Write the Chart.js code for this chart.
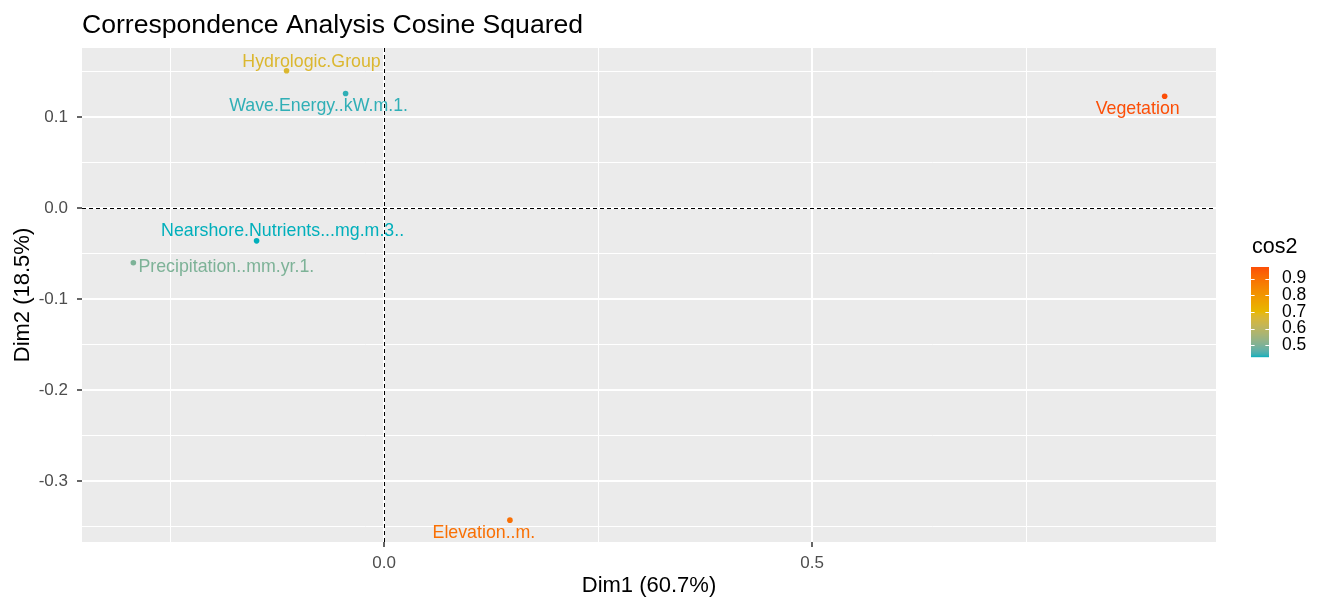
<!DOCTYPE html>
<html>
<head>
<meta charset="utf-8">
<title>Correspondence Analysis Cosine Squared</title>
<script src="https://cdn.jsdelivr.net/npm/chart.js@4.4.1/dist/chart.umd.min.js"></script>
<style>
  html, body { margin: 0; padding: 0; background: #fff; }
  #wrap { width: 1317px; height: 601px; }
</style>
</head>
<body>
<div id="wrap"><canvas id="caChart"></canvas></div>
<script>
// variables on the CA map
const labels = ["Hydrologic.Group", "Wave.Energy..kW.m.1.", "Vegetation", "Nearshore.Nutrients...mg.m.3..", "Precipitation..mm.yr.1.", "Elevation..m."];
const dim1 = [-0.114, -0.045, 0.912, -0.149, -0.293, 0.147];
const dim2 = [0.151, 0.126, 0.123, -0.036, -0.060, -0.343];
const cos2 = [0.67, 0.44, 0.97, 0.43, 0.50, 0.90];

// axis ticks (the minor ones only get a grid line)
const xTicks = [-0.25, 0, 0.25, 0.5, 0.75];
const xMajor = [0, 0.5];
const yTicks = [-0.35, -0.3, -0.25, -0.2, -0.15, -0.1, -0.05, 0, 0.05, 0.1, 0.15];
const yMajor = [-0.3, -0.2, -0.1, 0, 0.1];
const legendTicks = [0.5, 0.6, 0.7, 0.8, 0.9];

// styling
const FONT = '"Liberation Sans", Arial, sans-serif';
const gradCols = ["#00AFBB", "#E7B800", "#FC4E07"];
// label nudges from their point, in px (like ggrepel pushed them)
const nudgeX = [25, -27, -27, 26, 93, -26];
const nudgeY = [-9, 13, 13, -10, 4, 13];

function isMajor(list, v) {
  return list.some(m => Math.abs(m - v) < 1e-9);
}

// colour ramp in Lab space, same as ggplot's gradientn
function toLab(hex) {
  const c = [1, 3, 5].map(i => parseInt(hex.slice(i, i + 2), 16) / 255)
    .map(v => v <= 0.04045 ? v / 12.92 : Math.pow((v + 0.055) / 1.055, 2.4));
  const X = (0.4124 * c[0] + 0.3576 * c[1] + 0.1805 * c[2]) / 0.95047;
  const Y = 0.2126 * c[0] + 0.7152 * c[1] + 0.0722 * c[2];
  const Z = (0.0193 * c[0] + 0.1192 * c[1] + 0.9505 * c[2]) / 1.08883;
  const f = t => t > 0.008856 ? Math.cbrt(t) : 7.787 * t + 16 / 116;
  return [116 * f(Y) - 16, 500 * (f(X) - f(Y)), 200 * (f(Y) - f(Z))];
}
function fromLab(L, a, b) {
  const fy = (L + 16) / 116, fx = fy + a / 500, fz = fy - b / 200;
  const inv = t => t * t * t > 0.008856 ? t * t * t : (t - 16 / 116) / 7.787;
  const X = inv(fx) * 0.95047, Y = inv(fy), Z = inv(fz) * 1.08883;
  const lin = [3.2406 * X - 1.5372 * Y - 0.4986 * Z, -0.9689 * X + 1.8758 * Y + 0.0415 * Z, 0.0557 * X - 0.2040 * Y + 1.0570 * Z];
  return "rgb(" + lin.map(v => {
    v = v <= 0.0031308 ? 12.92 * v : 1.055 * Math.pow(v, 1 / 2.4) - 0.055;
    return Math.round(Math.min(1, Math.max(0, v)) * 255);
  }).join(",") + ")";
}
const labStops = gradCols.map(toLab);
const cMin = Math.min(...cos2), cMax = Math.max(...cos2);
function cosColor(v) {
  let t = (v - cMin) / (cMax - cMin) * (labStops.length - 1);
  const i = Math.max(0, Math.min(Math.floor(t), labStops.length - 2));
  t -= i;
  const a = labStops[i], b = labStops[i + 1];
  return fromLab(a[0] + (b[0] - a[0]) * t, a[1] + (b[1] - a[1]) * t, a[2] + (b[2] - a[2]) * t);
}

const decorPlugin = {
  id: "decor",
  beforeDraw(chart) {
    // grey panel
    const { ctx, chartArea: a } = chart;
    ctx.save();
    ctx.fillStyle = "#EBEBEB";
    ctx.fillRect(a.left, a.top, a.right - a.left, a.bottom - a.top);
    ctx.restore();
  },
  beforeDatasetsDraw(chart) {
    // dashed lines through the origin
    const { ctx, chartArea: a, scales: { x, y } } = chart;
    const x0 = Math.round(x.getPixelForValue(0)) + 0.5;
    const y0 = Math.round(y.getPixelForValue(0)) + 0.5;
    ctx.save();
    ctx.strokeStyle = "#000";
    ctx.lineWidth = 1;
    ctx.setLineDash([4, 3]);
    ctx.beginPath();
    ctx.moveTo(x0, a.top); ctx.lineTo(x0, a.bottom);
    ctx.moveTo(a.left, y0); ctx.lineTo(a.right, y0);
    ctx.stroke();
    ctx.restore();
  },
  afterDatasetsDraw(chart) {
    // point labels
    const { ctx, scales: { x, y } } = chart;
    ctx.save();
    ctx.font = "17.8px " + FONT;
    ctx.textAlign = "center";
    ctx.textBaseline = "middle";
    labels.forEach((txt, i) => {
      ctx.fillStyle = cosColor(cos2[i]);
      ctx.fillText(txt, x.getPixelForValue(dim1[i]) + nudgeX[i], y.getPixelForValue(dim2[i]) + nudgeY[i]);
    });
    ctx.restore();
  },
  afterDraw(chart) {
    const { ctx, chartArea: a } = chart;
    ctx.save();
    // title
    ctx.fillStyle = "#000";
    ctx.font = "26.6px " + FONT;
    ctx.textAlign = "left";
    ctx.textBaseline = "alphabetic";
    ctx.fillText("Correspondence Analysis Cosine Squared", a.left, 33);

    // colour bar legend
    const barL = a.right + 35, barW = 18, barT = 267, barH = 90;
    const toY = v => barT + (cMax - v) / (cMax - cMin) * barH;
    for (let k = 0; k < barH; k++) {
      ctx.fillStyle = cosColor(cMax - (k + 0.5) / barH * (cMax - cMin));
      ctx.fillRect(barL, barT + k, barW, 1.2);
    }
    ctx.font = "21.5px " + FONT;
    ctx.fillStyle = "#000";
    ctx.fillText("cos2", barL + 1, 253);
    ctx.font = "17.5px " + FONT;
    ctx.textBaseline = "middle";
    ctx.strokeStyle = "#fff";
    ctx.lineWidth = 1;
    legendTicks.forEach(v => {
      const ty = Math.round(toY(v)) + 0.5;
      ctx.beginPath();
      ctx.moveTo(barL, ty); ctx.lineTo(barL + 3.6, ty);
      ctx.moveTo(barL + barW - 3.6, ty); ctx.lineTo(barL + barW, ty);
      ctx.stroke();
      ctx.fillStyle = "#000";
      ctx.fillText(v.toFixed(1), barL + 31, toY(v));
    });
    ctx.restore();
  }
};

function gridOpts(major) {
  return {
    color: "#FFFFFF",
    lineWidth: c => isMajor(major, c.tick.value) ? 2 : 1,
    drawTicks: true,
    tickLength: 5,
    tickWidth: 1.5,
    tickColor: c => isMajor(major, c.tick.value) ? "#333333" : "rgba(0,0,0,0)"
  };
}

new Chart(document.getElementById("caChart"), {
  type: "scatter",
  data: {
    datasets: [{
      data: dim1.map((v, i) => ({ x: v, y: dim2[i] })),
      pointBackgroundColor: cos2.map(cosColor),
      pointBorderWidth: 0,
      pointRadius: 2.8
    }]
  },
  options: {
    responsive: true,
    maintainAspectRatio: false,
    animation: false,
    layout: { padding: { top: 48, right: 101, bottom: 0, left: 0 } },
    plugins: {
      legend: { display: false },
      tooltip: { enabled: false },
      title: { display: false }
    },
    scales: {
      x: {
        type: "linear",
        min: -0.353,
        max: 0.972,
        afterBuildTicks: s => { s.ticks = xTicks.map(v => ({ value: v })); },
        afterFit: s => { s.height = 59; },
        ticks: {
          autoSkip: false, maxRotation: 0, padding: 6,
          color: "#4D4D4D", font: { family: FONT, size: 17 },
          callback: v => isMajor(xMajor, v) ? v.toFixed(1) : ""
        },
        grid: gridOpts(xMajor),
        border: { display: false },
        title: { display: true, text: "Dim1 (60.7%)", color: "#000", font: { family: FONT, size: 22 }, padding: { top: 0, bottom: 2 } }
      },
      y: {
        type: "linear",
        min: -0.367,
        max: 0.176,
        afterBuildTicks: s => { s.ticks = yTicks.map(v => ({ value: v })); },
        afterFit: s => { s.width = 82; },
        ticks: {
          autoSkip: false, padding: 9,
          color: "#4D4D4D", font: { family: FONT, size: 17 },
          callback: v => isMajor(yMajor, v) ? v.toFixed(1) : ""
        },
        grid: gridOpts(yMajor),
        border: { display: false },
        title: { display: true, text: "Dim2 (18.5%)", color: "#000", font: { family: FONT, size: 22 }, padding: { top: 10, bottom: 0 } }
      }
    }
  },
  plugins: [decorPlugin]
});
</script>
</body>
</html>
